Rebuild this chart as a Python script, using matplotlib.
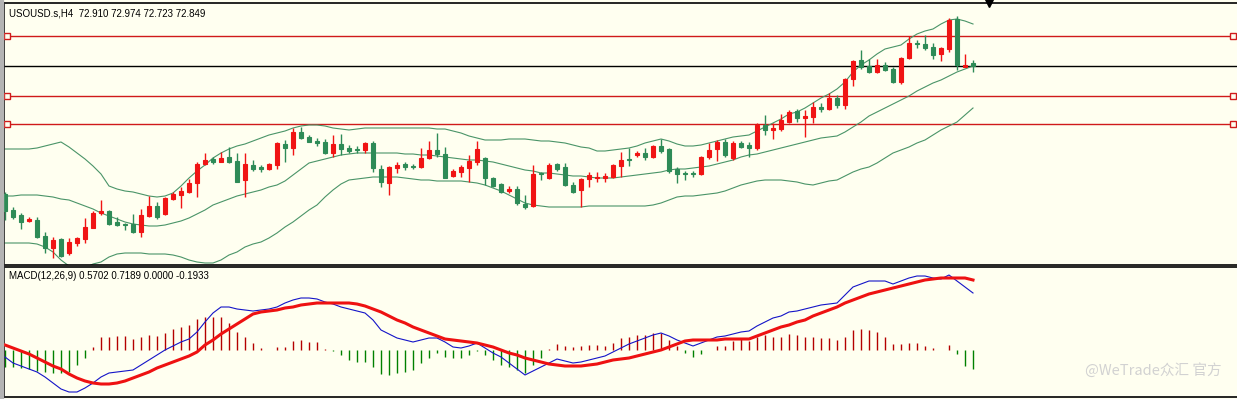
import numpy as np
import matplotlib
matplotlib.use("Agg")
import matplotlib.pyplot as plt
import matplotlib.transforms as mtransforms
from matplotlib.patches import Rectangle

# -----------------------------
# 1 — DATA (USOUSD.s, H4)
# -----------------------------

opens = [70.29, 69.97, 69.87, 69.75, 69.77, 69.45, 69.21, 69.39, 69.11, 69.31,
         69.39, 69.61, 69.91, 69.95, 69.73, 69.69, 69.69, 69.53, 69.85, 70.05,
         69.89, 70.19, 70.27, 70.33, 70.51, 70.89, 70.99, 70.93, 71.03, 70.95,
         70.57, 70.87, 70.83, 70.79, 70.87, 71.29, 71.21, 71.53, 71.43, 71.35,
         71.33, 71.11, 71.29, 71.21, 71.19, 71.17, 71.31, 70.79, 70.51, 70.81,
         70.89, 70.85, 70.83, 71.01, 71.17, 71.09, 70.65, 70.73, 70.81, 70.93,
         71.01, 70.61, 70.49, 70.35, 70.39, 70.09, 70.05, 70.71, 70.61, 70.89,
         70.83, 70.47, 70.37, 70.59, 70.61, 70.61, 70.63, 70.85, 70.99, 71.07,
         71.11, 71.03, 71.25, 71.19, 70.79, 70.71, 70.71, 70.69, 71.03, 71.19,
         71.33, 71.01, 71.31, 71.27, 71.21, 71.67, 71.57, 71.59, 71.73, 71.95,
         71.81, 71.83, 72.03, 71.99, 72.21, 72.07, 72.59, 72.97, 72.85, 72.73,
         72.87, 72.79, 72.53, 73.01, 73.31, 73.29, 73.23, 73.09, 73.19, 73.79,
         72.83, 72.910]
highs = [70.33, 70.03, 69.91, 69.83, 69.83, 69.53, 69.43, 69.41, 69.41, 69.43,
         69.81, 69.95, 70.17, 69.97, 69.83, 69.71, 69.89, 69.99, 70.25, 70.13,
         70.23, 70.33, 70.43, 70.59, 70.93, 71.11, 71.03, 71.13, 71.23, 71.11,
         71.11, 70.97, 70.87, 70.91, 71.33, 71.37, 71.61, 71.63, 71.47, 71.41,
         71.39, 71.47, 71.49, 71.27, 71.25, 71.33, 71.35, 70.87, 70.85, 70.93,
         70.93, 70.89, 71.21, 71.35, 71.51, 71.23, 70.79, 70.87, 71.07, 71.35,
         71.03, 70.63, 70.51, 70.45, 70.45, 70.27, 70.87, 70.73, 70.91, 70.91,
         70.91, 70.53, 70.61, 70.73, 70.73, 70.71, 70.89, 71.13, 71.21, 71.15,
         71.21, 71.27, 71.39, 71.21, 70.83, 70.75, 70.75, 71.05, 71.31, 71.37,
         71.39, 71.35, 71.35, 71.33, 71.71, 71.87, 71.71, 71.89, 71.97, 71.99,
         71.97, 72.13, 72.11, 72.31, 72.27, 72.61, 72.97, 73.17, 72.99, 72.99,
         72.93, 72.83, 73.03, 73.45, 73.37, 73.47, 73.31, 73.23, 73.81, 73.85,
         73.09, 72.974]
lows = [69.77, 69.79, 69.59, 69.73, 69.41, 69.11, 69.01, 69.03, 69.07, 69.25,
        69.31, 69.61, 69.87, 69.67, 69.65, 69.57, 69.51, 69.43, 69.83, 69.79,
        69.87, 70.17, 70.01, 70.31, 70.23, 70.87, 70.89, 70.93, 70.91, 70.53,
        70.23, 70.75, 70.73, 70.77, 70.79, 70.93, 71.07, 71.39, 71.33, 71.25,
        71.09, 71.03, 71.07, 71.11, 71.11, 71.11, 70.73, 70.43, 70.27, 70.71,
        70.77, 70.79, 70.81, 70.99, 71.03, 70.61, 70.63, 70.63, 70.53, 70.87,
        70.47, 70.43, 70.31, 70.31, 70.07, 69.99, 70.03, 70.57, 70.59, 70.75,
        70.45, 70.31, 70.03, 70.43, 70.53, 70.53, 70.61, 70.63, 70.85, 71.03,
        70.97, 71.01, 71.11, 70.71, 70.51, 70.57, 70.63, 70.67, 70.99, 70.95,
        71.03, 70.97, 71.21, 71.03, 71.17, 71.47, 71.39, 71.55, 71.71, 71.73,
        71.43, 71.71, 71.93, 71.97, 72.01, 71.99, 72.45, 72.79, 72.71, 72.71,
        72.75, 72.51, 72.49, 72.99, 73.21, 73.17, 72.99, 72.95, 73.13, 72.77,
        72.83, 72.723]
closes = [69.95, 69.83, 69.73, 69.79, 69.43, 69.21, 69.37, 69.05, 69.33, 69.41,
          69.63, 69.91, 69.95, 69.69, 69.67, 69.67, 69.53, 69.87, 70.05, 69.83,
          70.21, 70.29, 70.35, 70.51, 70.89, 70.97, 70.93, 71.01, 70.93, 70.53,
          70.89, 70.79, 70.79, 70.89, 71.31, 71.21, 71.53, 71.41, 71.33, 71.31,
          71.11, 71.29, 71.19, 71.15, 71.17, 71.31, 70.81, 70.53, 70.83, 70.87,
          70.83, 70.83, 71.01, 71.17, 71.09, 70.61, 70.75, 70.83, 70.95, 71.19,
          70.61, 70.45, 70.33, 70.39, 70.11, 70.03, 70.69, 70.69, 70.87, 70.79,
          70.47, 70.33, 70.59, 70.67, 70.63, 70.65, 70.87, 70.97, 70.97, 71.11,
          71.03, 71.25, 71.15, 70.75, 70.69, 70.69, 70.69, 71.03, 71.17, 71.33,
          71.07, 71.31, 71.23, 71.21, 71.67, 71.57, 71.61, 71.77, 71.93, 71.81,
          71.85, 72.03, 71.99, 72.21, 72.07, 72.59, 72.95, 72.83, 72.73, 72.87,
          72.77, 72.53, 73.01, 73.31, 73.29, 73.21, 73.07, 73.21, 73.77, 72.87,
          72.87, 72.849]

# Bollinger bands as drawn on the chart
bb_upper = [71.19, 71.19, 71.19, 71.19, 71.21, 71.25, 71.29, 71.33, 71.23, 71.11,
            70.99, 70.85, 70.69, 70.45, 70.39, 70.35, 70.33, 70.29, 70.25, 70.23,
            70.25, 70.31, 70.45, 70.61, 70.75, 70.87, 71.01, 71.11, 71.19, 71.25,
            71.29, 71.35, 71.41, 71.47, 71.51, 71.55, 71.61, 71.65, 71.67, 71.67,
            71.65, 71.61, 71.59, 71.57, 71.59, 71.61, 71.61, 71.61, 71.61, 71.61,
            71.61, 71.61, 71.61, 71.61, 71.59, 71.59, 71.55, 71.51, 71.45, 71.41,
            71.37, 71.37, 71.37, 71.39, 71.39, 71.39, 71.37, 71.35, 71.35, 71.33,
            71.31, 71.27, 71.23, 71.21, 71.15, 71.15, 71.17, 71.19, 71.21, 71.25,
            71.31, 71.35, 71.39, 71.35, 71.29, 71.25, 71.25, 71.27, 71.31, 71.35,
            71.39, 71.43, 71.45, 71.47, 71.55, 71.63, 71.71, 71.79, 71.89, 71.93,
            72.01, 72.11, 72.21, 72.29, 72.39, 72.53, 72.73, 72.87, 72.97, 73.09,
            73.19, 73.23, 73.27, 73.39, 73.49, 73.55, 73.59, 73.69, 73.77, 73.79,
            73.75, 73.69]
bb_middle = [70.25, 70.25, 70.27, 70.27, 70.27, 70.25, 70.23, 70.19, 70.17, 70.11,
             70.05, 69.99, 69.91, 69.85, 69.79, 69.73, 69.69, 69.67, 69.65, 69.65,
             69.67, 69.71, 69.75, 69.81, 69.89, 69.97, 70.07, 70.13, 70.19, 70.25,
             70.29, 70.33, 70.37, 70.43, 70.47, 70.55, 70.67, 70.79, 70.91, 70.95,
             70.99, 71.03, 71.07, 71.09, 71.11, 71.11, 71.11, 71.11, 71.11, 71.11,
             71.09, 71.09, 71.07, 71.07, 71.05, 71.03, 71.01, 70.99, 70.97, 70.97,
             70.95, 70.93, 70.89, 70.85, 70.81, 70.77, 70.75, 70.71, 70.71, 70.69,
             70.67, 70.65, 70.65, 70.63, 70.61, 70.61, 70.61, 70.63, 70.65, 70.67,
             70.69, 70.71, 70.73, 70.77, 70.79, 70.79, 70.81, 70.83, 70.85, 70.89,
             70.93, 70.97, 71.03, 71.07, 71.09, 71.13, 71.17, 71.21, 71.25, 71.29,
             71.33, 71.37, 71.41, 71.43, 71.45, 71.53, 71.63, 71.73, 71.85, 71.93,
             72.01, 72.09, 72.17, 72.25, 72.35, 72.43, 72.51, 72.57, 72.65, 72.73,
             72.79, 72.85]
bb_lower = [69.31, 69.31, 69.31, 69.31, 69.29, 69.23, 69.13, 68.97, 68.85, 68.77,
            68.81, 68.89, 68.93, 69.03, 69.09, 69.11, 69.11, 69.11, 69.09, 69.09,
            69.09, 69.07, 69.03, 68.97, 68.93, 68.91, 68.91, 68.97, 69.07, 69.13,
            69.23, 69.29, 69.33, 69.41, 69.51, 69.63, 69.73, 69.85, 69.97, 70.07,
            70.23, 70.37, 70.49, 70.57, 70.59, 70.61, 70.63, 70.63, 70.63, 70.63,
            70.61, 70.59, 70.57, 70.57, 70.55, 70.55, 70.55, 70.55, 70.53, 70.51,
            70.47, 70.41, 70.35, 70.27, 70.19, 70.11, 70.07, 70.05, 70.03, 70.03,
            70.03, 70.03, 70.03, 70.05, 70.05, 70.05, 70.05, 70.05, 70.05, 70.05,
            70.05, 70.07, 70.11, 70.17, 70.23, 70.25, 70.25, 70.27, 70.29, 70.31,
            70.35, 70.41, 70.47, 70.51, 70.55, 70.57, 70.57, 70.57, 70.55, 70.53,
            70.49, 70.47, 70.51, 70.55, 70.57, 70.65, 70.73, 70.79, 70.83, 70.91,
            71.01, 71.11, 71.17, 71.23, 71.31, 71.37, 71.47, 71.57, 71.65, 71.73,
            71.87, 72.01]

# horizontal levels drawn by hand on the chart
red_levels = [73.45, 72.25, 71.69]
price_line = 72.849

# MACD(12,26,9)
macd_main = [-0.07, -0.13, -0.16, -0.19, -0.22, -0.27, -0.33, -0.39, -0.42, -0.42,
             -0.38, -0.33, -0.27, -0.23, -0.22, -0.21, -0.20, -0.15, -0.10, -0.05,
             0.00, 0.04, 0.08, 0.11, 0.18, 0.28, 0.37, 0.43, 0.43, 0.41,
             0.40, 0.39, 0.40, 0.41, 0.43, 0.47, 0.50, 0.52, 0.52, 0.51,
             0.48, 0.46, 0.43, 0.41, 0.39, 0.37, 0.30, 0.20, 0.16, 0.12,
             0.10, 0.08, 0.10, 0.12, 0.12, 0.08, 0.03, 0.02, 0.04, 0.07,
             0.02, -0.03, -0.07, -0.13, -0.19, -0.25, -0.21, -0.17, -0.13, -0.09,
             -0.11, -0.13, -0.12, -0.10, -0.08, -0.06, -0.02, 0.02, 0.06, 0.09,
             0.12, 0.15, 0.17, 0.14, 0.10, 0.07, 0.04, 0.07, 0.10, 0.13,
             0.14, 0.16, 0.18, 0.19, 0.24, 0.28, 0.32, 0.34, 0.38, 0.39,
             0.41, 0.43, 0.45, 0.46, 0.47, 0.55, 0.63, 0.66, 0.69, 0.69,
             0.69, 0.66, 0.69, 0.72, 0.74, 0.74, 0.72, 0.71, 0.75, 0.69,
             0.63, 0.57]
macd_signal = [0.05, 0.02, -0.01, -0.04, -0.08, -0.12, -0.16, -0.19, -0.24, -0.28,
               -0.31, -0.33, -0.34, -0.34, -0.33, -0.31, -0.28, -0.25, -0.22, -0.18,
               -0.15, -0.12, -0.09, -0.06, -0.02, 0.05, 0.10, 0.16, 0.21, 0.26,
               0.31, 0.36, 0.38, 0.39, 0.40, 0.42, 0.43, 0.45, 0.46, 0.47,
               0.47, 0.47, 0.47, 0.47, 0.46, 0.44, 0.41, 0.38, 0.34, 0.30,
               0.27, 0.23, 0.20, 0.17, 0.14, 0.11, 0.10, 0.09, 0.08, 0.07,
               0.05, 0.03, 0.00, -0.03, -0.05, -0.08, -0.10, -0.12, -0.14, -0.15,
               -0.16, -0.16, -0.16, -0.15, -0.14, -0.12, -0.10, -0.09, -0.08, -0.06,
               -0.04, -0.02, 0.00, 0.03, 0.06, 0.09, 0.10, 0.10, 0.10, 0.10,
               0.11, 0.11, 0.11, 0.11, 0.14, 0.17, 0.20, 0.23, 0.25, 0.28,
               0.30, 0.34, 0.37, 0.40, 0.43, 0.47, 0.50, 0.53, 0.56, 0.58,
               0.60, 0.62, 0.64, 0.66, 0.68, 0.70, 0.71, 0.72, 0.72, 0.72,
               0.72, 0.70]
macd_hist = [-0.17, -0.17, -0.18, -0.19, -0.21, -0.22, -0.23, -0.23, -0.22, -0.15,
             -0.08, 0.03, 0.13, 0.13, 0.14, 0.14, 0.11, 0.13, 0.15, 0.14,
             0.17, 0.21, 0.23, 0.25, 0.31, 0.33, 0.33, 0.33, 0.27, 0.18,
             0.13, 0.07, 0.02, 0.00, 0.03, 0.03, 0.09, 0.10, 0.08, 0.08,
             0.01, -0.01, -0.05, -0.10, -0.12, -0.12, -0.17, -0.24, -0.25, -0.23,
             -0.22, -0.20, -0.13, -0.08, -0.03, -0.07, -0.08, -0.08, -0.05, -0.01,
             -0.05, -0.10, -0.15, -0.17, -0.20, -0.23, -0.15, -0.08, 0.01, 0.06,
             0.04, 0.03, 0.04, 0.05, 0.05, 0.04, 0.07, 0.12, 0.13, 0.15,
             0.15, 0.17, 0.17, 0.10, 0.04, -0.03, -0.07, -0.04, 0.00, 0.04,
             0.04, 0.09, 0.12, 0.09, 0.13, 0.15, 0.13, 0.13, 0.16, 0.15,
             0.13, 0.13, 0.12, 0.12, 0.10, 0.13, 0.20, 0.21, 0.20, 0.18,
             0.13, 0.06, 0.06, 0.07, 0.07, 0.04, 0.02, 0.00, 0.05, -0.04,
             -0.16, -0.19]

title_main = "USOUSD.s,H4  72.910 72.974 72.723 72.849"
title_macd = "MACD(12,26,9) 0.5702 0.7189 0.0000 -0.1933"

# -----------------------------
# 2 — FIGURE SETUP
# -----------------------------

bg = "#fffff0"
up_col = "#f01414"
down_col = "#2e8b57"
band_col = "#4a9468"

W, H = 1237, 399
fig = plt.figure(figsize=(W / 100, H / 100), dpi=100, facecolor=bg)
fig.patches.append(Rectangle((0, 0), 3 / W, 1, transform=fig.transFigure,
                             color="#b4b4b4", zorder=0))

ax = fig.add_axes([4 / W, (H - 265) / H, 1233 / W, 262 / H], facecolor=bg)
ax2 = fig.add_axes([4 / W, 2 / H, 1233 / W, 130 / H], facecolor=bg)

for a in (ax, ax2):
    a.set_xticks([])
    a.set_yticks([])
    a.set_xlim(-0.125, 154)
    for s in ("left", "top", "bottom"):
        a.spines[s].set_color("black")
        a.spines[s].set_linewidth(1.2)
    a.spines["right"].set_visible(False)

ax.set_ylim(68.87, 74.11)
ax2.set_ylim(-0.47, 0.83)

# -----------------------------
# 3 — PRICE PANEL
# -----------------------------

o = np.array(opens)
h = np.array(highs)
l = np.array(lows)
c = np.array(closes)
x = np.arange(len(c))
colors = np.where(c >= o, up_col, down_col)

# levels, with small square handles at both ends
handles = mtransforms.blended_transform_factory(ax.transAxes, ax.transData)
for lvl in red_levels:
    ax.axhline(lvl, color="#d01a1a", lw=1.0, zorder=1)
    ax.plot([0.0025, 0.9968], [lvl, lvl], ls="none", marker="s", ms=4,
            mfc=bg, mec="#d01a1a", mew=1.0, transform=handles,
            clip_on=False, zorder=3)
ax.axhline(price_line, color="black", lw=1.0, zorder=1)

# bollinger bands
ax.plot(x, bb_upper, color=band_col, lw=0.8, zorder=2)
ax.plot(x, bb_middle, color=band_col, lw=0.8, zorder=2)
ax.plot(x, bb_lower, color=band_col, lw=0.8, zorder=2)

# candles
ax.vlines(x, l, h, colors=colors, lw=1.0, zorder=3)
ax.bar(x, np.abs(c - o), bottom=np.minimum(o, c), width=0.55,
       color=colors, edgecolor=colors, lw=0.8, zorder=4)

# chart shift marker
ax.plot([123], [1.0], marker="v", ms=6, color="black",
        transform=mtransforms.blended_transform_factory(ax.transData, ax.transAxes),
        clip_on=False, zorder=5)

ax.text(5 / 1233, 1 - 10 / 262, title_main, transform=ax.transAxes,
        family="Liberation Sans", fontsize=7, va="center", ha="left")

# -----------------------------
# 4 — MACD PANEL
# -----------------------------

hist = np.array(macd_hist)
hcol = np.where(hist >= 0, "#b40000", "#008000")
ax2.vlines(x, 0, hist, colors=hcol, lw=1.0, zorder=2)
ax2.plot(x, macd_main, color="#1414c8", lw=0.8, zorder=3)
ax2.plot(x, macd_signal, color="#ee1111", lw=2.2, zorder=4)

ax2.text(5 / 1233, 1 - 9 / 130, title_macd, transform=ax2.transAxes,
         family="Liberation Sans", fontsize=7, va="center", ha="left")

# watermark
ax2.text(1 - 15 / 1233, 1 - 103 / 130, "@WeTrade众汇 官方", transform=ax2.transAxes,
         family=["Noto Sans CJK SC", "DejaVu Sans"], fontsize=10.5,
         color="#d2d2d2", va="center", ha="right", zorder=6)

plt.savefig("out.png", dpi=100, facecolor=bg)
plt.close()
